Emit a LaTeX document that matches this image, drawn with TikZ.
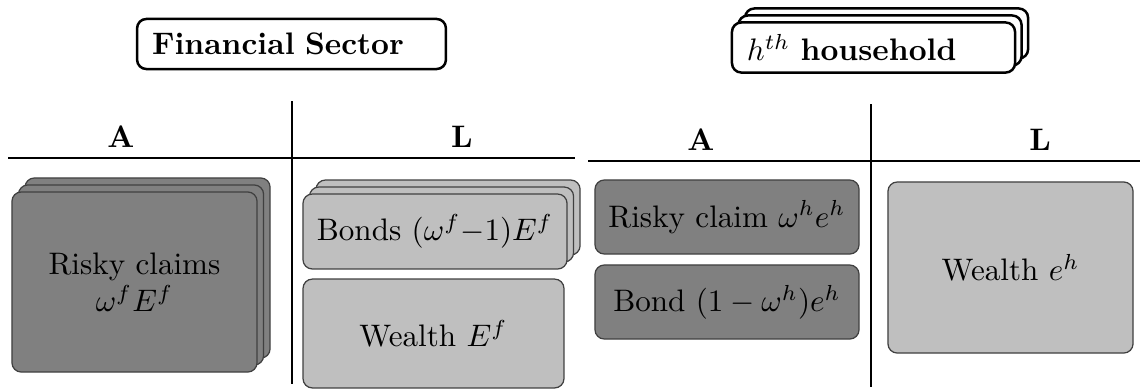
\documentclass[tikz,border=0pt]{standalone}
\usepackage{amsmath}
\usetikzlibrary{shadows, positioning}
\tikzset{
  sectorbox/.style={
    rectangle, rounded corners=3pt, draw=black, thick, fill=white,
    minimum height=16.1pt, inner xsep=4.8pt, align=left, font=\bfseries
  },
  riskybox/.style={
    rectangle, rounded corners=3pt, draw=black!75, fill=black!50,
    align=center, inner sep=2pt
  },
  safebox/.style={
    rectangle, rounded corners=3pt, draw=black!75, fill=black!25,
    align=center, inner sep=2pt
  },
  stacked/.style={
    copy shadow={shadow xshift=4.2pt, shadow yshift=4.5pt, #1},
    copy shadow={shadow xshift=2.1pt, shadow yshift=2.25pt, #1}
  },
  header/.style={font=\bfseries, anchor=base},
  tline/.style={semithick}
}

\begin{document}
\begin{tikzpicture}[x=0.3215pt, y=-0.3215pt]
  \useasboundingbox (0,0) rectangle (1140,390);

  % Financial sector
  \node[sectorbox, text width=89.7pt] (fin) at (291.5,44) {Financial Sector};
  \draw[tline] (8,158) -- (575,158);
  \draw[tline] (292,101) -- (292,384);
  \node[header] (finA) at (121,147) {A};
  \node[header] (finL) at (462,147) {L};

  \node[riskybox, stacked={fill=black!50, draw=black!75},
        minimum width=78.8pt, minimum height=57.9pt]
        (finrisky) at (134.5,282) {Risky claims\\$\omega^f E^f$};
  \node[safebox, stacked={fill=black!25, draw=black!75},
        minimum width=84.9pt, minimum height=24.1pt]
        (finbonds) at (435,231.5) {Bonds $(\omega^f{-}1)E^f$};
  \node[safebox, minimum width=83.9pt, minimum height=35pt]
        (finwealth) at (433.5,333.5) {Wealth $E^f$};

  % Households
  \node[sectorbox, stacked={fill=white, draw=black, thick}, text width=81.4pt]
        (hh) at (873.5,47.5) {$h^{th}$ household};
  \draw[tline] (588,161) -- (1140,161);
  \draw[tline] (871,104) -- (871,387);
  \node[header] (hhA) at (701,150) {A};
  \node[header] (hhL) at (1040,150) {L};

  \node[riskybox, minimum width=84.9pt, minimum height=23.8pt]
        (hhrisky) at (727,217) {Risky claim $\omega^h e^h$};
  \node[riskybox, minimum width=84.9pt, minimum height=23.8pt]
        (hhbond) at (727,302) {Bond $(1-\omega^h)e^h$};
  \node[safebox, minimum width=78.8pt, minimum height=55pt]
        (hhwealth) at (1010.5,267.5) {Wealth $e^h$};
\end{tikzpicture}
\end{document}
